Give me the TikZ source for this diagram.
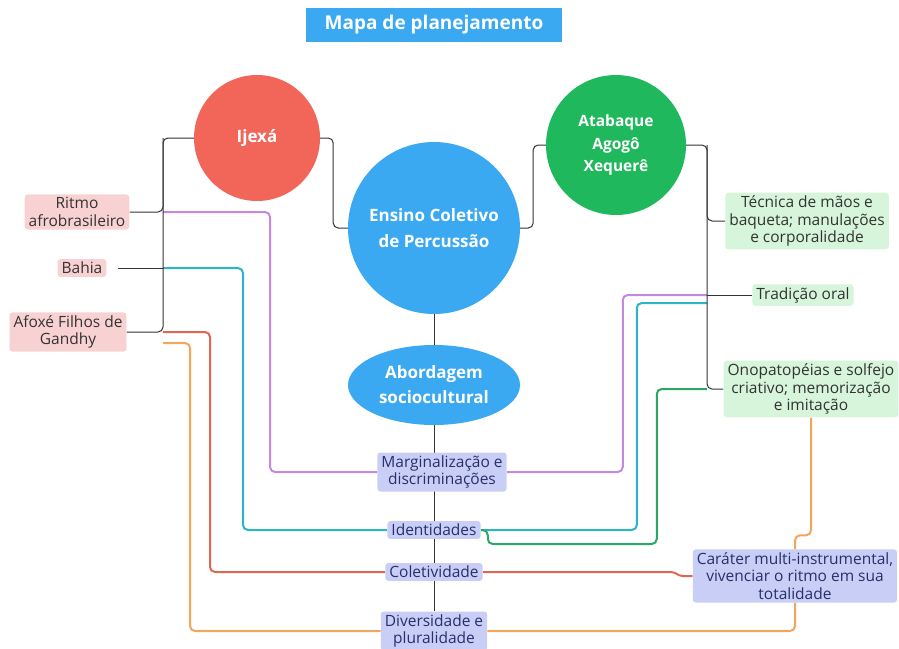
\documentclass[tikz,border=0pt]{standalone}
\usepackage{fontspec}
\setmainfont{Open Sans}
\usepackage{xcolor}
\usepackage{tikz}
\usetikzlibrary{shapes.geometric,positioning,calc,backgrounds}
\definecolor{mapblue}{HTML}{3AA9F1}
\definecolor{ijexared}{HTML}{F2665A}
\definecolor{atabgreen}{HTML}{1FB85C}
\definecolor{tagpink}{HTML}{F8D2D2}
\definecolor{taggreen}{HTML}{D6F5DB}
\definecolor{taglav}{HTML}{C9CEF6}
\definecolor{lavtext}{HTML}{27306B}
\definecolor{wirepurple}{HTML}{C488E2}
\definecolor{wireteal}{HTML}{2BB6C3}
\definecolor{wiregreen}{HTML}{2BA866}
\definecolor{wirered}{HTML}{E0674F}
\definecolor{wireorange}{HTML}{F2A65C}

\begin{document}
\begin{tikzpicture}[x=1pt, y=1pt,
    hub/.style={circle, fill=#1, text=white, align=center, inner sep=0pt, font=\bfseries\fontsize{17}{26}\selectfont},
    pinktag/.style={rectangle, rounded corners=3pt, fill=tagpink, text=black!80, align=center, inner xsep=4pt, inner ysep=3pt, font=\fontsize{15.5}{17.5}\selectfont},
    greentag/.style={pinktag, fill=taggreen},
    lavtag/.style={pinktag, fill=taglav, text=lavtext},
    link/.style={draw=black!80, line width=1pt, rounded corners=5pt},
    wire/.style={draw=#1, line width=2pt, rounded corners=5pt}
]
    \useasboundingbox (0,0) rectangle (899,-648);

    \node[rectangle, fill=mapblue, text=white, minimum width=256, minimum height=34, font=\bfseries\fontsize{19}{22}\selectfont] (title) at (434,-25) {Mapa de planejamento};

    \node[hub=ijexared, minimum size=126] (ijexa) at (257,-138) {Ijexá};
    \node[hub=mapblue, minimum size=172] (ensino) at (434,-228) {Ensino Coletivo\\de Percussão};
    \node[hub=atabgreen, minimum size=140, font=\bfseries\fontsize{15.5}{22.5}\selectfont] (atab) at (616,-145) {Atabaque\\Agogô\\Xequerê};
    \node[ellipse, fill=mapblue, text=white, align=center, minimum width=172, minimum height=80, inner sep=0pt, font=\bfseries\fontsize{17}{25}\selectfont] (abord) at (434,-385) {Abordagem\\sociocultural};

    \node[pinktag] (ritmo) at (77,-212) {Ritmo\\afrobrasileiro};
    \node[pinktag] (bahia) at (82,-268) {Bahia};
    \node[pinktag] (afoxe) at (68,-332) {Afoxé Filhos de\\Gandhy};

    \node[greentag] (tecnica) at (807,-221) {Técnica de mãos e\\baqueta; manulações\\e corporalidade};
    \node[greentag] (tradicao) at (803,-295) {Tradição oral};
    \node[greentag] (onopa) at (811,-389) {Onopatopéias e solfejo\\criativo; memorização\\e imitação};

    \node[lavtag] (marg) at (442,-472) {Marginalização e\\discriminações};
    \node[lavtag] (ident) at (434,-530) {Identidades};
    \node[lavtag] (colet) at (434,-572) {Coletividade};
    \node[lavtag] (divers) at (434,-631) {Diversidade e\\pluralidade};
    \node[lavtag] (carater) at (795,-576) {Caráter multi-instrumental,\\vivenciar o ritmo em sua\\totalidade};

    \coordinate (lt) at (163,-138);
    \coordinate (rt) at (707,-145);

    \begin{scope}[on background layer]
    \draw[wire=wirepurple] (ritmo.east -| lt) -- ++(107,0) |- (marg.west);
    \draw[wire=wirepurple] (marg.east) -- ++(116,0) |- (tradicao.west -| rt);
    \draw[wire=wireteal] (bahia.east -| lt) -- ++(80,0) |- (ident.west);
    \draw[wire=wireteal] (ident.east) -- ++(156,0) |- ($(tradicao.west -| rt)+(0,-8)$);
    \draw[wire=wiregreen] (ident.east) -| ++(7,-14) -- ++(169,0) |- (onopa.west -| rt);
    \draw[wire=wirered] (afoxe.east -| lt) -- ++(47,0) |- (colet.west);
    \draw[wire=wirered, sharp corners] (colet.east) -- ++(188,0) to[out=0, in=180] ++(12,-4) -- (carater.west);
    \draw[wire=wireorange] ($(afoxe.east -| lt)+(0,-11)$) -- ++(27,0) |- (divers.west);
    \draw[wire=wireorange] (divers.east) -| (carater.south);
    \draw[wire=wireorange] (carater.north) -- ++(0,14) -| (onopa.south);

    \draw[link] (ijexa.west) -- (lt) |- (ritmo.east);
    \draw[link] (lt) |- (afoxe.east);
    \draw[link, shorten <=11pt] (bahia.east) -- (bahia.east -| lt);
    \draw[link] (ijexa.east) -- ++(13,0) |- (ensino.west);
    \draw[link] (ensino.east) -- ++(13,0) |- (atab.west);
    \draw[link] (atab.east) -- (rt) |- (onopa.west);
    \draw[link] (rt) |- (tecnica.west);
    \draw[link] (tradicao.west -| rt) -- (tradicao.west);
    \draw[link] (ensino) -- (abord);
    \draw[link] (abord) -- (divers);
    \end{scope}
\end{tikzpicture}
\end{document}
